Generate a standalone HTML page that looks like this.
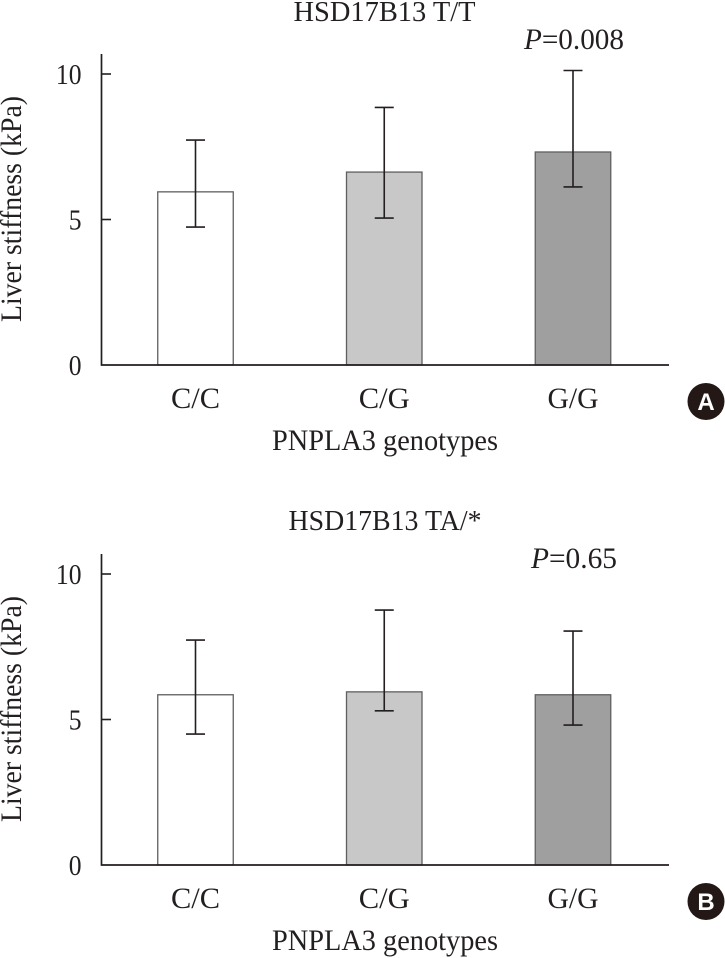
<!DOCTYPE html>
<html lang="en">
<head>
<meta charset="utf-8">
<title>Liver stiffness by PNPLA3 genotype</title>
<style>
html,body{margin:0;padding:0;background:#fff;width:725px;height:958px;overflow:hidden}
svg{display:block}
text{font-family:"Liberation Serif",serif;fill:#231f20}
</style>
</head>
<body>
<svg id="chart" width="725" height="958" viewBox="0 0 725 958" xmlns="http://www.w3.org/2000/svg"></svg>
<script>
const categories = ['C/C', 'C/G', 'G/G'];
const tickValues = [0, 5, 10];
const tickLabels = ['0', '5', '10'];
const barFills = ['#ffffff', '#c8c8c8', '#9f9f9f'];
const panelNames = ['a', 'b'];
const titles = ['HSD17B13 T/T', 'HSD17B13 TA/*'];
const pLabels = ['=0.008', '=0.65'];
const badges = ['A', 'B'];
const xTitle = 'PNPLA3 genotypes';
const yTitle = 'Liver stiffness (kPa)';

const meansA = [5.95, 6.63, 7.32];
const upperA = [7.73, 8.85, 10.12];
const lowerA = [4.74, 5.05, 6.12];

const meansB = [5.85, 5.95, 5.85];
const upperB = [7.73, 8.76, 8.04];
const lowerB = [4.50, 5.30, 4.81];

const NS = 'http://www.w3.org/2000/svg';
const svg = document.getElementById('chart');

function make(tag, attrs, parent) {
  const el = document.createElementNS(NS, tag);
  for (const k in attrs) el.setAttribute(k, attrs[k]);
  parent.appendChild(el);
  return el;
}
function y0(panelIndex) { return panelIndex === 0 ? 365 : 865; }
function yScale(v, panelIndex) { return y0(panelIndex) - v * 29.1; }
function xScale(i) { return 195.5 + i * 188.75; }

function label(parent, str, x, y, size, width, anchor) {
  const t = make('text', {x: x, y: y, 'font-size': size, 'text-anchor': anchor || 'middle'}, parent);
  if (width) {
    t.setAttribute('textLength', width);
    t.setAttribute('lengthAdjust', 'spacingAndGlyphs');
  }
  t.textContent = str;
  return t;
}

function drawPanel(p, means, upper, lower) {
  const g = make('g', {}, svg);
  
  
  const base = y0(p);

  const title = label(g, titles[p], p === 0 ? 384.5 : 385, p === 0 ? 21 : 530, 29, p === 0 ? 182 : 193);
  
  

  means.forEach(function (m, i) {
    const bw = 75.5;
    const top = yScale(m, p);
    const bar = make('rect', {x: xScale(i) - bw / 2, y: top, width: bw, height: base - top, fill: barFills[i], stroke: '#5f5f5f', 'stroke-width': 1.3}, g);
    
    

    const cx = xScale(i);
    const yU = yScale(upper[i], p);
    const yL = yScale(lower[i], p);
    const err = make('path', {d: 'M' + cx + ' ' + yU + 'V' + yL + 'M' + (cx - 9.5) + ' ' + yU + 'H' + (cx + 9.5) + 'M' + (cx - 9.5) + ' ' + yL + 'H' + (cx + 9.5), fill: 'none', stroke: '#231f20', 'stroke-width': 1.6}, g);
    
    

    const cat = label(g, categories[i], cx, base + 43, 30, i === 0 ? 49 : 51);
    
    
  });

  const axes = make('path', {d: 'M101.5 ' + (base - 311) + 'V' + base + 'H669', fill: 'none', stroke: '#231f20', 'stroke-width': 1.7}, g);
  
  

  tickValues.forEach(function (v, i) {
    const ty = yScale(v, p);
    if (v !== 0) {
      const tick = make('line', {x1: 101.5, x2: 111, y1: ty, y2: ty, stroke: '#231f20', 'stroke-width': 1.6}, g);
      
      
    }
    const tl = label(g, tickLabels[i], 81.5, ty + 10, 29, tickLabels[i].length * 12.8, 'end');
    
    
  });

  const yt = make('text', {transform: 'translate(21 ' + (base - 156) + ') rotate(-90)', 'font-size': 30, 'text-anchor': 'middle', textLength: 226, lengthAdjust: 'spacingAndGlyphs'}, g);
  yt.textContent = yTitle;
  
  

  const xt = label(g, xTitle, 385, base + 85, 30, 226);
  
  

  const pt = make('text', {x: p === 0 ? 524 : 531, y: p === 0 ? 49 : 568, 'font-size': 30}, g);
  const pi = make('tspan', {'font-style': 'italic'}, pt);
  pi.textContent = 'P';
  const pv = make('tspan', {}, pt);
  pv.textContent = pLabels[p];
  pt.setAttribute('textLength', p === 0 ? 100 : 86);
  pt.setAttribute('lengthAdjust', 'spacingAndGlyphs');
  
  

  const bc = make('circle', {cx: 706, cy: base + 36.5, r: 18.5, fill: '#231815'}, g);
  
  
  const bt = make('text', {x: 706, y: base + 45, 'font-size': 24, 'font-weight': 700, 'text-anchor': 'middle', style: 'font-family:"Liberation Sans",sans-serif;fill:#fff'}, g);
  bt.textContent = badges[p];
  
  
}

drawPanel(0, meansA, upperA, lowerA);
drawPanel(1, meansB, upperB, lowerB);
</script>
</body>
</html>
